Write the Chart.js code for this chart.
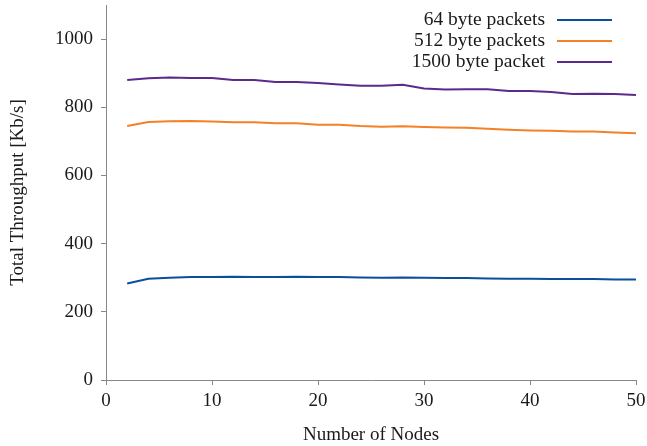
<!DOCTYPE html>
<html>
<head>
<meta charset="utf-8">
<script src="https://cdn.jsdelivr.net/npm/chart.js@4/dist/chart.umd.min.js"></script>
<style>
  html, body { margin: 0; padding: 0; background: #fff; }
  #wrap { width: 647px; height: 446px; position: relative; }
</style>
</head>
<body>
<div id="wrap"><canvas id="throughputChart"></canvas></div>
<script>
// number of nodes
const nodes = [2, 4, 6, 8, 10, 12, 14, 16, 18, 20, 22, 24, 26, 28, 30, 32, 34, 36, 38, 40, 42, 44, 46, 48, 50];

// total throughput in Kb/s
const tp64 = [283, 297, 300, 302, 302, 303, 302, 302, 303, 302, 302, 301, 300, 301, 300, 299, 299, 298, 297, 297, 296, 296, 296, 295, 295];
const tp512 = [745, 757, 759, 760, 758, 756, 756, 753, 753, 749, 749, 745, 743, 744, 742, 741, 740, 737, 734, 732, 731, 729, 729, 726, 724];
const tp1500 = [880, 885, 887, 886, 886, 880, 880, 874, 874, 871, 867, 863, 863, 866, 855, 852, 853, 853, 848, 848, 845, 839, 840, 839, 836];

const seriesLabels = ['64 byte packets', '512 byte packets', '1500 byte packet'];
const seriesColors = ['#0b4f9c', '#f58025', '#5b2a8c'];
const yTicks = [0, 200, 400, 600, 800, 1000];

const serif = "'Liberation Serif', 'DejaVu Serif', serif";
const textColor = '#1a1a1a';

function toPoints(ys) {
    return nodes.map((x, i) => ({ x: x, y: ys[i] }));
}

// legend in the top right corner: text right aligned, line sample after it
const cornerLegend = {
    id: 'cornerLegend',
    afterDraw(chart) {
        const ctx = chart.ctx;
        const lineStart = 557, lineEnd = 612;
        ctx.save();
        ctx.font = '19.5px ' + serif;
        ctx.textAlign = 'right';
        ctx.textBaseline = 'middle';
        chart.data.datasets.forEach((ds, i) => {
            const y = 20 + i * 21;
            ctx.fillStyle = textColor;
            ctx.fillText(ds.label, lineStart - 12, y);
            ctx.strokeStyle = ds.borderColor;
            ctx.lineWidth = 2;
            ctx.beginPath();
            ctx.moveTo(lineStart, y);
            ctx.lineTo(lineEnd, y);
            ctx.stroke();
        });
        ctx.restore();
    }
};

const ctx = document.getElementById('throughputChart').getContext('2d');

new Chart(ctx, {
    type: 'line',
    data: {
        datasets: [
            { label: seriesLabels[0], data: toPoints(tp64), borderColor: seriesColors[0] },
            { label: seriesLabels[1], data: toPoints(tp512), borderColor: seriesColors[1] },
            { label: seriesLabels[2], data: toPoints(tp1500), borderColor: seriesColors[2] }
        ]
    },
    options: {
        responsive: true,
        maintainAspectRatio: false,
        animation: false,
        layout: {
            padding: { top: 5, right: 11, left: 0, bottom: 0 }
        },
        elements: {
            line: { borderWidth: 2, tension: 0, fill: false },
            point: { radius: 0 }
        },
        scales: {
            x: {
                type: 'linear',
                min: 0,
                max: 50,
                ticks: {
                    stepSize: 10,
                    color: textColor,
                    font: { family: serif, size: 19 },
                    padding: 5,
                    maxRotation: 0
                },
                grid: {
                    drawOnChartArea: false,
                    drawTicks: true,
                    tickLength: 5,
                    color: '#888'
                },
                border: { color: '#888', width: 1 },
                title: {
                    display: true,
                    text: 'Number of Nodes',
                    color: textColor,
                    font: { family: serif, size: 19 },
                    padding: { top: 6, bottom: 0 }
                },
                afterFit(scale) {
                    scale.height = 66;
                    scale.paddingLeft = 0;
                    scale.paddingRight = 0;
                }
            },
            y: {
                type: 'linear',
                min: 0,
                max: 1100,
                afterBuildTicks(scale) {
                    scale.ticks = yTicks.map(v => ({ value: v }));
                },
                ticks: {
                    color: textColor,
                    font: { family: serif, size: 19 },
                    padding: 8,
                    callback: v => String(v)
                },
                grid: {
                    drawOnChartArea: false,
                    drawTicks: true,
                    tickLength: 5,
                    color: '#888'
                },
                border: { color: '#888', width: 1 },
                title: {
                    display: true,
                    text: 'Total Throughput [Kb/s]',
                    color: textColor,
                    font: { family: serif, size: 19 },
                    padding: { top: 7, bottom: 0 }
                },
                afterFit(scale) {
                    scale.width = 106;
                    scale.paddingTop = 0;
                    scale.paddingBottom = 0;
                }
            }
        },
        plugins: {
            legend: { display: false },
            tooltip: { enabled: false }
        }
    },
    plugins: [cornerLegend]
});
</script>
</body>
</html>
